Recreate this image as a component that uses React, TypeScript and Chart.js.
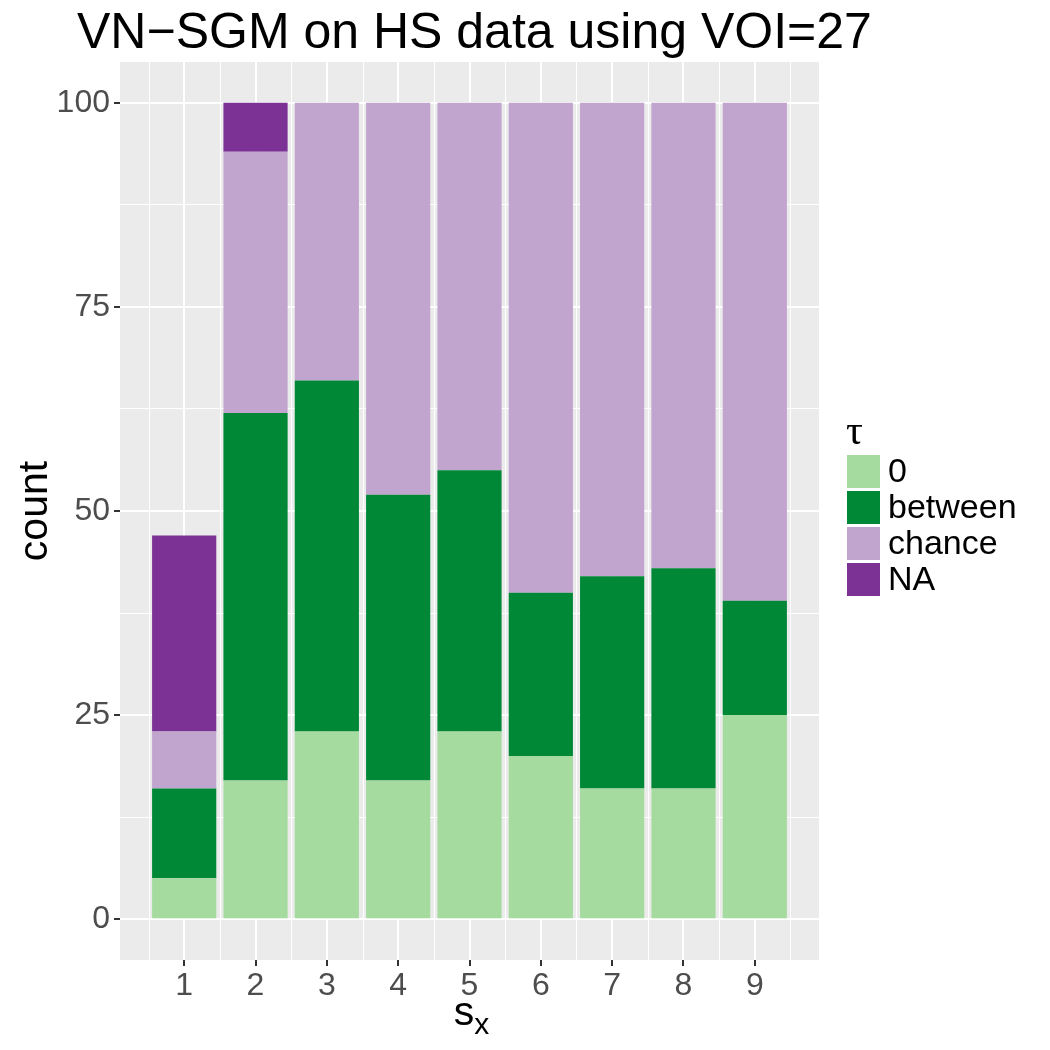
import { useEffect, useRef } from 'react';
import { Chart, registerables } from 'chart.js';

Chart.register(...registerables);

// Matching counts per s_x value, split by tau outcome
const categories = [1, 2, 3, 4, 5, 6, 7, 8, 9];
const zeroCounts = [5, 17, 23, 17, 23, 20, 16, 16, 25];
const betweenCounts = [11, 45, 43, 35, 32, 20, 26, 27, 14];
const chanceCounts = [7, 32, 34, 48, 45, 60, 58, 57, 61];
const naCounts = [24, 6, 0, 0, 0, 0, 0, 0, 0];

const seriesNames = ['0', 'between', 'chance', 'NA'];
const seriesColors = ['#A6DBA0', '#008837', '#C2A5CF', '#7B3294'];
const seriesValues = [zeroCounts, betweenCounts, chanceCounts, naCounts];

const yMajorTicks = [0, 25, 50, 75, 100];
const yMinorTicks = [12.5, 37.5, 62.5, 87.5];
const xMinorTicks = [0.5, 1.5, 2.5, 3.5, 4.5, 5.5, 6.5, 7.5, 8.5, 9.5];

const titleText = 'VN\u2212SGM on HS data using VOI=27';
const legendTitle = '\u03C4';

const SANS = '"Liberation Sans", Arial, Helvetica, sans-serif';
const SERIF = '"Liberation Serif", "DejaVu Serif", serif';

const decorations = {
  id: 'decorations',
  beforeDraw(chart: any) {
    const { ctx, chartArea: a } = chart;
    ctx.save();
    ctx.fillStyle = '#FFFFFF';
    ctx.fillRect(0, 0, chart.width, chart.height);
    ctx.fillStyle = '#EBEBEB';
    ctx.fillRect(a.left, a.top, a.right - a.left, a.bottom - a.top);
    ctx.restore();
  },
  beforeDatasetsDraw(chart: any) {
    // minor vertical grid lines halfway between the categories
    const { ctx, chartArea: a, scales } = chart;
    ctx.save();
    ctx.strokeStyle = '#FFFFFF';
    ctx.lineWidth = 1;
    xMinorTicks.forEach((v) => {
      const px = Math.round(scales.x.getPixelForValue(v)) + 0.5;
      ctx.beginPath();
      ctx.moveTo(px, a.top);
      ctx.lineTo(px, a.bottom);
      ctx.stroke();
    });
    ctx.restore();
  },
  afterDraw(chart: any) {
    const { ctx, chartArea: a } = chart;
    ctx.save();
    ctx.fillStyle = '#000000';
    ctx.textBaseline = 'alphabetic';

    // plot title
    ctx.font = `50px ${SANS}`;
    ctx.textAlign = 'left';
    ctx.fillText(titleText, 77, 48);

    // y axis title
    ctx.save();
    ctx.translate(47, (a.top + a.bottom) / 2);
    ctx.rotate(-Math.PI / 2);
    ctx.font = `41px ${SANS}`;
    ctx.textAlign = 'center';
    ctx.fillText('count', 0, 0);
    ctx.restore();

    // x axis title: s with subscript x
    ctx.font = `41px ${SANS}`;
    const sW = ctx.measureText('s').width;
    ctx.font = `30px ${SANS}`;
    const xW = ctx.measureText('x').width;
    const startX = (a.left + a.right) / 2 - (sW + xW) / 2 + 2;
    ctx.font = `41px ${SANS}`;
    ctx.textAlign = 'left';
    ctx.fillText('s', startX, 1025);
    ctx.font = `30px ${SANS}`;
    ctx.fillText('x', startX + sW, 1034);

    // legend
    ctx.font = `42px ${SERIF}`;
    ctx.fillText(legendTitle, 846, 444);
    const keyX = 847;
    const keyTop = 455;
    const keySize = 33;
    const pitch = 36;
    seriesNames.forEach((name, i) => {
      const y = keyTop + i * pitch;
      ctx.fillStyle = seriesColors[i];
      ctx.fillRect(keyX, y, keySize, keySize);
      ctx.fillStyle = '#000000';
      ctx.font = `34px ${SANS}`;
      ctx.textBaseline = 'middle';
      ctx.fillText(name, 888, y + keySize / 2 + 1);
    });
    ctx.restore();
  },
};

export default function App() {
  const canvasRef = useRef<HTMLCanvasElement | null>(null);

  useEffect(() => {
    document.body.style.margin = '0';
    const canvas = canvasRef.current;
    if (!canvas) return;

    const isMajorY = (v: number) => yMajorTicks.includes(v);

    const chart = new Chart(canvas, {
      type: 'bar',
      data: {
        datasets: seriesNames.map((name, i) => ({
          label: name,
          data: categories.map((c, j) => ({ x: c, y: seriesValues[i][j] })),
          backgroundColor: seriesColors[i],
          borderWidth: 0,
          categoryPercentage: 0.9,
          barPercentage: 1,
          stack: 'tau',
        })),
      },
      options: {
        responsive: false,
        animation: false,
        events: [],
        layout: { padding: { top: 62, right: 231, left: 0, bottom: 0 } },
        plugins: {
          legend: { display: false },
          title: { display: false },
          tooltip: { enabled: false },
        },
        scales: {
          x: {
            type: 'linear',
            min: 0.1,
            max: 9.9,
            stacked: true,
            offset: false,
            bounds: 'data',
            afterBuildTicks: (scale: any) => {
              scale.ticks = categories.map((v) => ({ value: v }));
            },
            afterFit: (scale: any) => {
              scale.height = 90;
            },
            border: { display: false },
            grid: {
              offset: false,
              color: '#FFFFFF',
              lineWidth: 2,
              tickColor: '#333333',
              tickLength: 6,
              tickWidth: 2,
            },
            ticks: {
              autoSkip: false,
              maxRotation: 0,
              padding: 1,
              color: '#4D4D4D',
              font: { family: SANS, size: 32 },
              callback: (v: any) => String(v),
            },
          },
          y: {
            type: 'linear',
            min: -5,
            max: 105,
            stacked: true,
            bounds: 'data',
            afterBuildTicks: (scale: any) => {
              const vals = [...yMajorTicks, ...yMinorTicks].sort((p, q) => p - q);
              scale.ticks = vals.map((v) => ({ value: v }));
            },
            afterFit: (scale: any) => {
              scale.width = 120;
            },
            border: { display: false },
            grid: {
              color: '#FFFFFF',
              lineWidth: (ctx: any) => (isMajorY(ctx.tick.value) ? 2 : 1),
              tickColor: (ctx: any) => (isMajorY(ctx.tick.value) ? '#333333' : 'rgba(0,0,0,0)'),
              tickLength: 6,
              tickWidth: 2,
            },
            ticks: {
              autoSkip: false,
              padding: 4,
              color: '#4D4D4D',
              font: { family: SANS, size: 32 },
              callback: (v: any) => (isMajorY(Number(v)) ? String(v) : ''),
            },
          },
        },
      },
      plugins: [decorations],
    } as any);

    return () => {
      chart.destroy();
    };
  }, []);

  return (
    <div style={{ width: 1050, height: 1050 }}>
      <canvas ref={canvasRef} width={1050} height={1050} />
    </div>
  );
}
